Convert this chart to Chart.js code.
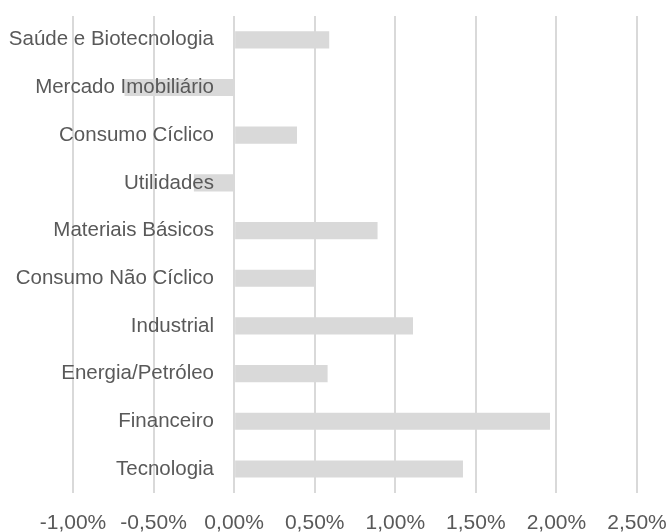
<!DOCTYPE html>
<html>
<head>
<meta charset="utf-8">
<script src="https://cdn.jsdelivr.net/npm/chart.js@4"></script>
<style>
  html, body { margin: 0; padding: 0; background: #fff; }
  #chart { display: block; }
</style>
</head>
<body>
<canvas id="chart" width="671" height="532"></canvas>
<script>
// setores, de cima para baixo
const sectors = [
    "Saúde e Biotecnologia",
    "Mercado Imobiliário",
    "Consumo Cíclico",
    "Utilidades",
    "Materiais Básicos",
    "Consumo Não Cíclico",
    "Industrial",
    "Energia/Petróleo",
    "Financeiro",
    "Tecnologia"
];

// variação em %
const returns = [0.59, -0.68, 0.39, -0.25, 0.89, 0.50, 1.11, 0.58, 1.96, 1.42];

const axisMin = -1;
const axisMax = 2.5;
const axisStep = 0.5;

const fmtPct = v => v.toFixed(2).replace(".", ",") + "%";

let chart = new Chart(document.getElementById("chart"), {
    type: "bar",
    data: {
        labels: sectors,
        datasets: [{
            data: returns,
            backgroundColor: "#d9d9d9",
            borderWidth: 0,
            barPercentage: 0.36,
            categoryPercentage: 1
        }]
    },
    options: {
        indexAxis: "y",
        responsive: false,
        animation: false,
        layout: {
            padding: { left: 73, right: 34, top: 16, bottom: -22 }
        },
        plugins: {
            legend: { display: false },
            tooltip: { enabled: false }
        },
        scales: {
            x: {
                min: axisMin,
                max: axisMax,
                grid: {
                    color: "#d9d9d9",
                    lineWidth: 2,
                    drawTicks: false
                },
                border: { display: false },
                ticks: {
                    stepSize: axisStep,
                    padding: 18,
                    color: "#595959",
                    font: { family: "Liberation Sans", size: 21 },
                    callback: v => fmtPct(v)
                },
                afterFit: s => { s.paddingLeft = 0; s.paddingRight = 0; }
            },
            y: {
                // rótulos encostados no eixo zero, como no Excel
                position: { x: -0.125 },
                grid: { display: false, drawTicks: false },
                border: { display: false },
                ticks: {
                    z: 1,
                    padding: 0,
                    color: "#595959",
                    font: { family: "Liberation Sans", size: 20.5 }
                },
                afterFit: s => { s.paddingTop = 0; s.paddingBottom = 0; }
            }
        }
    }
});
</script>
</body>
</html>
